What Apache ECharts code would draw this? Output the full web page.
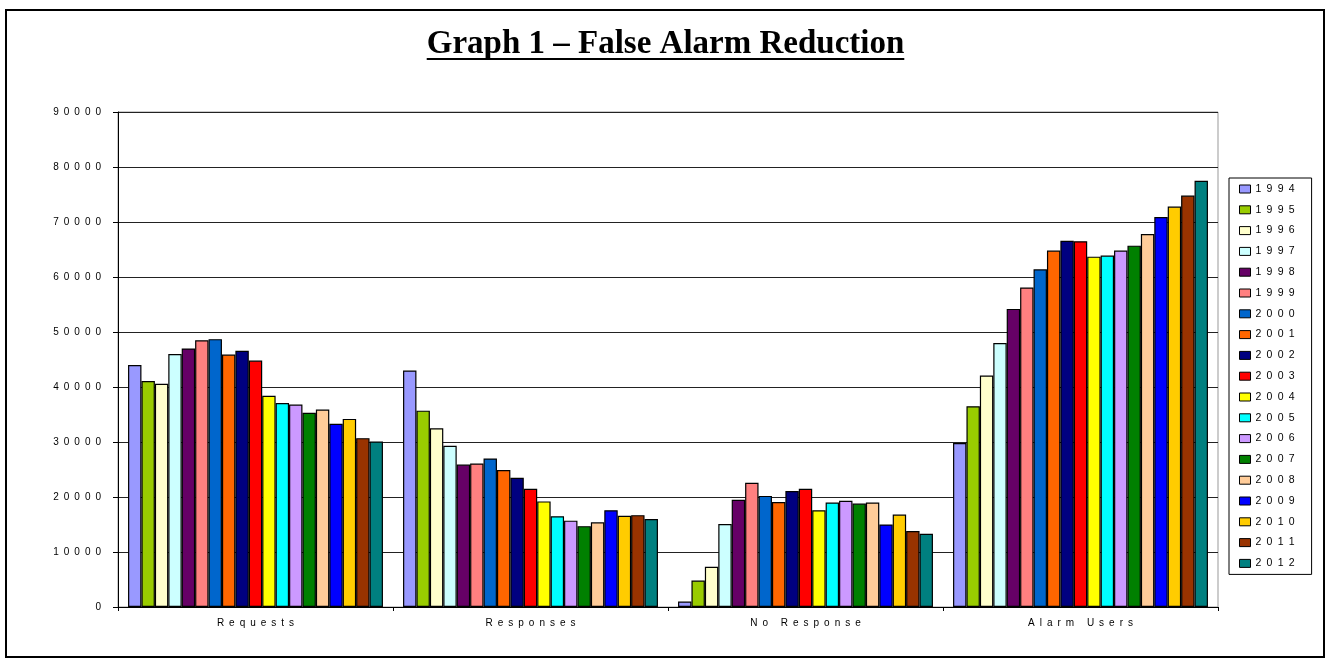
<!DOCTYPE html>
<html>
<head>
<meta charset="utf-8">
<title>Graph 1 – False Alarm Reduction</title>
<script src="https://cdn.jsdelivr.net/npm/echarts@6/dist/echarts.min.js"></script>
<style>
  html, body { margin: 0; padding: 0; background: #fff; }
  #chart { width: 1330px; height: 660px; }
</style>
</head>
<body>
<div id="chart"></div>
<script>
// Categories along the x axis
const categories = ['Requests', 'Responses', 'No Response', 'Alarm Users'];

// One series per year
const years = ['1994', '1995', '1996', '1997', '1998', '1999', '2000', '2001', '2002', '2003',
               '2004', '2005', '2006', '2007', '2008', '2009', '2010', '2011', '2012'];

// Yearly values for each category (1994 .. 2012)
const requests   = [44000, 41100, 40600, 46000, 47000, 48500, 48700, 45900, 46600, 44800,
                    38400, 37100, 36800, 35300, 35900, 33300, 34200, 30700, 30100];
const responses  = [43000, 35700, 32500, 29300, 25900, 26100, 27000, 24900, 23500, 21500,
                    19200, 16500, 15700, 14700, 15400, 17600, 16600, 16700, 16000];
const noResponse = [1000, 4800, 7300, 15100, 19500, 22600, 20200, 19100, 21100, 21500,
                    17600, 19000, 19300, 18800, 19000, 15000, 16800, 13800, 13300];
const alarmUsers = [29800, 36500, 42100, 48000, 54200, 58100, 61400, 64800, 66600, 66500,
                    63700, 63900, 64800, 65700, 67800, 70900, 72800, 74800, 77500];

// Y axis range
const yMin = 0, yMax = 90000, yStep = 10000;

// Classic spreadsheet palette, one colour per year
const palette = ['#9999FF', '#99CC00', '#FFFFCC', '#CCFFFF', '#660066', '#FF8080', '#0066CC',
                 '#FF6600', '#000080', '#FF0000', '#FFFF00', '#00FFFF', '#CC99FF', '#008000',
                 '#FFCC99', '#0000FF', '#FFCC00', '#993300', '#008080'];

const byCategory = [requests, responses, noResponse, alarmUsers];
const spaced = s => String(s).split('').join('\u2002');

const series = years.map((y, i) => ({
  name: y,
  type: 'bar',
  data: byCategory.map(arr => arr[i]),
  barGap: '0%',
  barCategoryGap: '7.3%',
  itemStyle: { color: palette[i], borderColor: '#000', borderWidth: 1.2 },
  emphasis: { disabled: true },
  animation: false
}));

// Title text and its underline
const titleText = 'Graph 1 \u2013 False Alarm Reduction';
const titleFont = 'bold 33px "Liberation Serif", "Times New Roman", serif';
const ctx = document.createElement('canvas').getContext('2d');
ctx.font = titleFont;
const titleW = ctx.measureText(titleText).width;
const titleCx = 665.5, titleCy = 44;

const chart = echarts.init(document.getElementById('chart'), null, { renderer: 'canvas' });
chart.setOption({
  animation: false,
  backgroundColor: '#fff',
  color: palette,
  grid: {
    left: 118, right: 112, top: 112, bottom: 53,
    show: true, borderColor: '#999', borderWidth: 1, backgroundColor: 'transparent'
  },
  legend: {
    orient: 'vertical',
    left: 1229, top: 178,
    padding: [5, 17, 5, 10],
    itemWidth: 11, itemHeight: 8, itemGap: 8.8,
    icon: 'rect',
    backgroundColor: '#fff',
    borderColor: '#000', borderWidth: 1,
    itemStyle: { borderColor: '#000', borderWidth: 1 },
    selectedMode: false,
    formatter: spaced,
    textStyle: { fontFamily: '"Liberation Sans", Arial, sans-serif', fontSize: 10.5, color: '#000', lineHeight: 12 }
  },
  xAxis: {
    type: 'category',
    data: categories,
    axisLine: { lineStyle: { color: '#000', width: 1 } },
    axisTick: { show: true, interval: 0, length: 4, lineStyle: { color: '#000' } },
    axisLabel: {
      interval: 0, margin: 11, formatter: spaced, color: '#000',
      fontFamily: '"Liberation Sans", Arial, sans-serif', fontSize: 10
    },
    splitLine: { show: false }
  },
  yAxis: {
    type: 'value',
    min: yMin, max: yMax, interval: yStep,
    axisLine: { show: true, lineStyle: { color: '#000', width: 1 } },
    axisTick: { show: true, length: 5, lineStyle: { color: '#000' } },
    axisLabel: {
      margin: 17, formatter: spaced, color: '#000',
      fontFamily: '"Liberation Sans", Arial, sans-serif', fontSize: 10
    },
    splitLine: { show: true, lineStyle: { color: '#222', width: 1 } }
  },
  graphic: [
    {
      type: 'rect', silent: true, z: -1,
      shape: { x: 6, y: 10, width: 1318, height: 647 },
      style: { fill: 'none', stroke: '#000', lineWidth: 2 }
    },
    {
      type: 'text', silent: true,
      style: {
        text: titleText, x: titleCx, y: titleCy,
        textAlign: 'center', textVerticalAlign: 'middle',
        font: titleFont, fill: '#000'
      }
    },
    {
      type: 'line', silent: true,
      shape: { x1: titleCx - titleW / 2, y1: 59, x2: titleCx + titleW / 2, y2: 59 },
      style: { stroke: '#000', lineWidth: 2 }
    }
  ],
  series: series
});
</script>
</body>
</html>
